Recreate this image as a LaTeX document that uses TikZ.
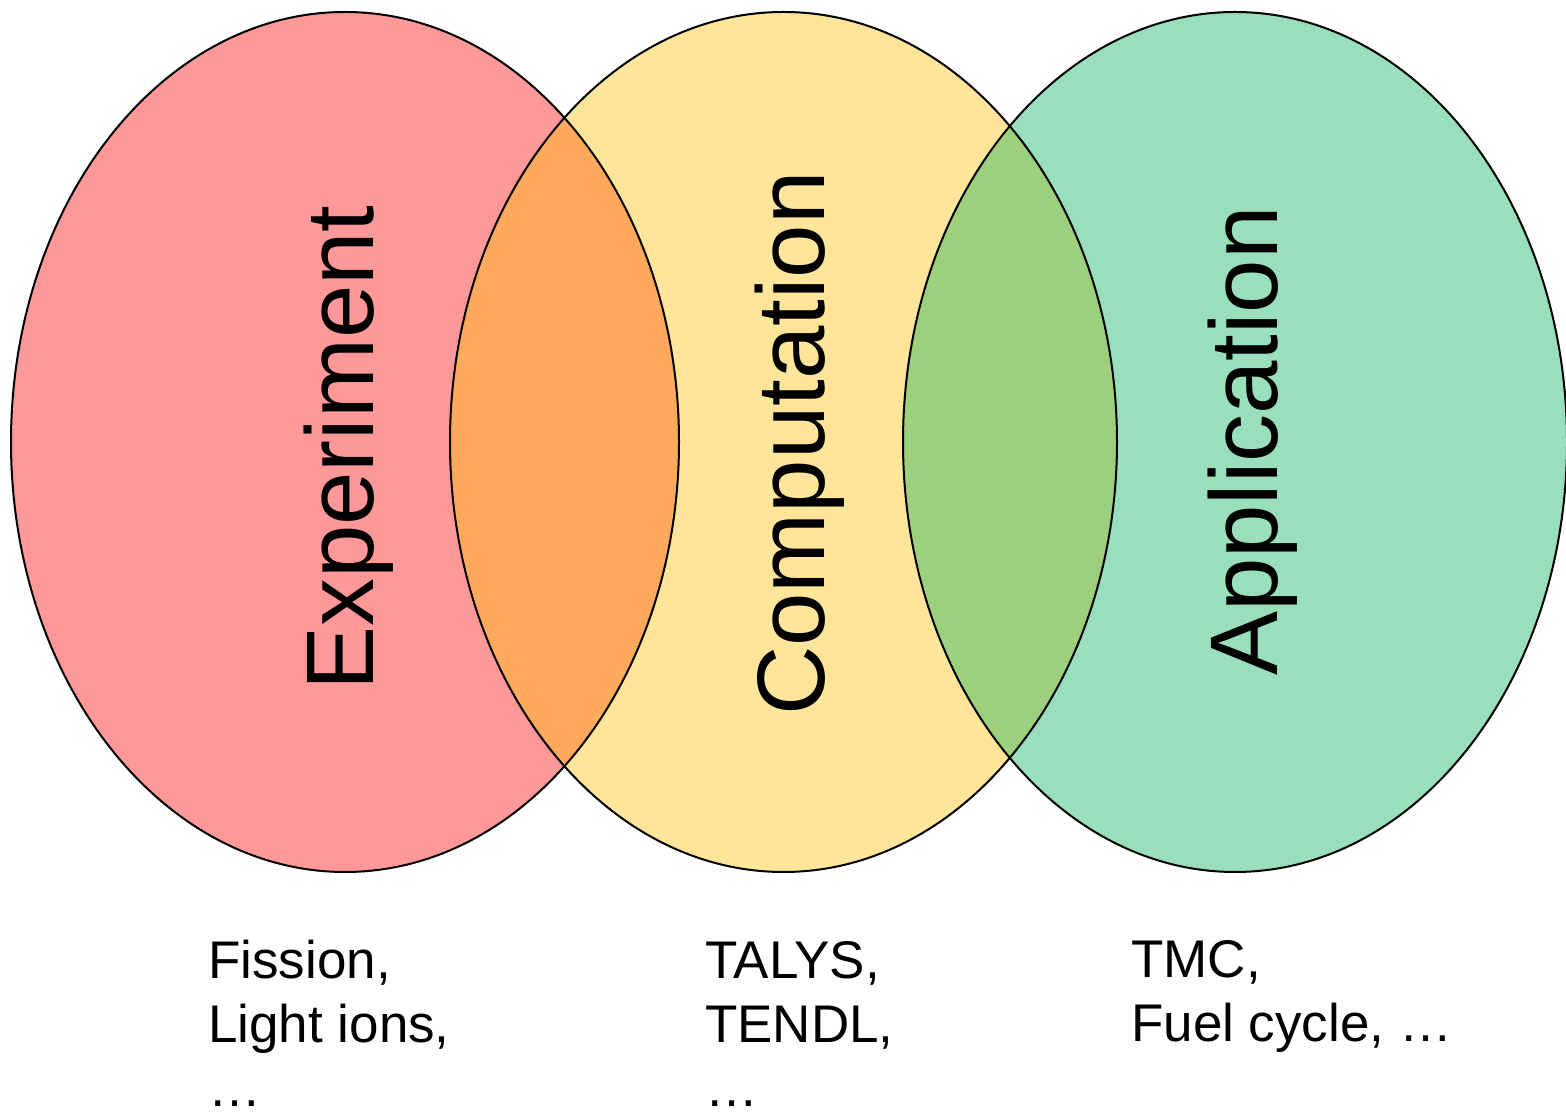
\documentclass[tikz,border=0pt]{standalone}
\usepackage{fontspec}
\setmainfont{Liberation Sans}
\definecolor{cred}{HTML}{FF9999}
\definecolor{cyel}{HTML}{FFE599}
\definecolor{cgrn}{HTML}{99DFBB}
\definecolor{corg}{HTML}{FFA95C}
\definecolor{cmix}{HTML}{9CD07C}
\tikzset{
  bigtxt/.style={rotate=90,anchor=base west,inner sep=0pt,font=\fontsize{96}{96}\selectfont},
  smalltxt/.style={anchor=base west,inner sep=0pt,align=left,font=\fontsize{53}{64}\selectfont},
  outline/.style={draw=black,line width=2pt}
}
\begin{document}
\begin{tikzpicture}[x=1pt,y=1pt]
\useasboundingbox (0,0) rectangle (1566,1111);
\def\elA{(345,669) ellipse [x radius=334, y radius=430]}
\def\elB{(783.5,669) ellipse [x radius=333.5, y radius=430]}
\def\elC{(1235,669) ellipse [x radius=332, y radius=430]}
\fill[cred] \elA;
\fill[cyel] \elB;
\fill[cgrn] \elC;
\begin{scope}
  \clip \elA;
  \fill[corg] \elB;
\end{scope}
\begin{scope}
  \clip \elB;
  \fill[cmix] \elC;
\end{scope}
\draw[outline] \elA;
\draw[outline] \elB;
\draw[outline] \elC;
\node[bigtxt] (exp) at (373,420) {Experiment};
\node[bigtxt] (comp) at (824,395) {Computation};
\node[bigtxt] (app) at (1277,435) {Application};
\node[smalltxt] (t1) at (208,5) {Fission,\\Light ions,\\…};
\node[smalltxt] (t2) at (705,5) {TALYS,\\TENDL,\\…};
\node[smalltxt] (t3) at (1131,69) {TMC,\\Fuel cycle, …};
\end{tikzpicture}
\end{document}
